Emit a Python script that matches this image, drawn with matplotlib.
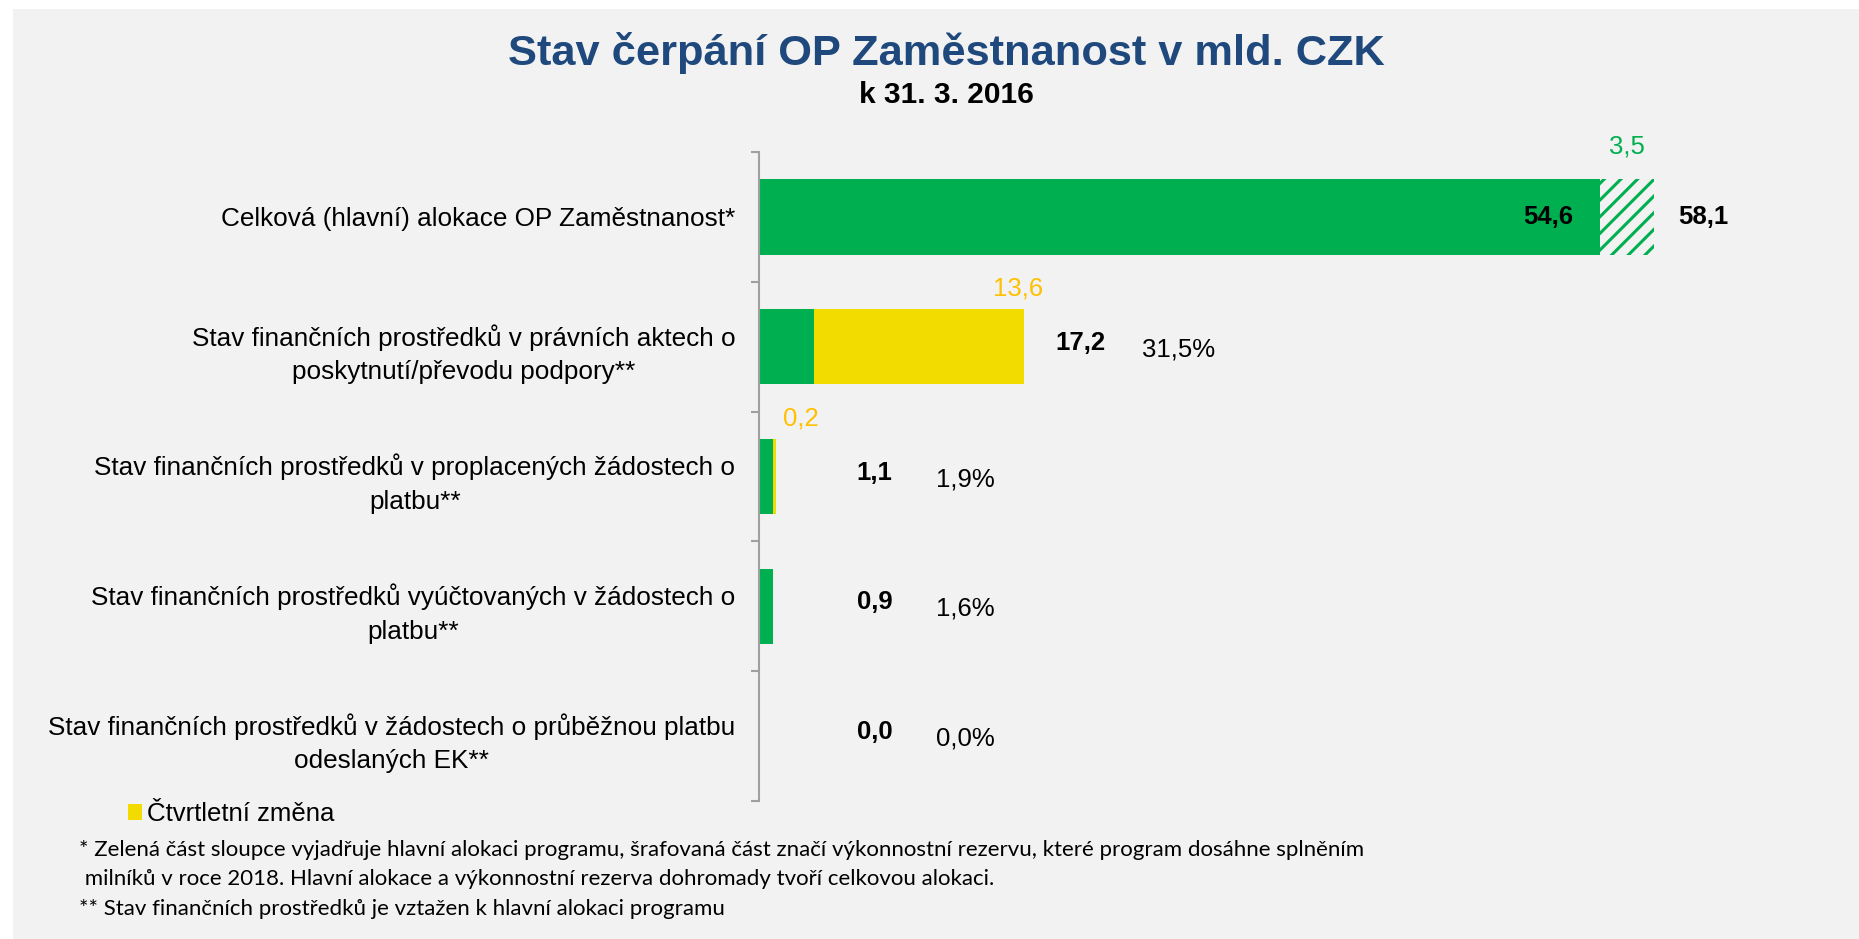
import matplotlib
matplotlib.use('Agg')
import matplotlib.pyplot as plt
from matplotlib.patches import Rectangle

plt.rcParams['font.family'] = ['Liberation Sans', 'DejaVu Sans']
plt.rcParams['hatch.linewidth'] = 2.2

# ---------------- data ----------------
title = "Stav čerpání OP Zaměstnanost v mld. CZK"
subtitle = "k 31. 3. 2016"
categories = [
    "Celková (hlavní) alokace OP Zaměstnanost*",
    "Stav finančních prostředků v právních aktech o\nposkytnutí/převodu podpory**",
    "Stav finančních prostředků v proplacených žádostech o\nplatbu**",
    "Stav finančních prostředků vyúčtovaných v žádostech o\nplatbu**",
    "Stav finančních prostředků v žádostech o průběžnou platbu\nodeslaných EK**",
]
main_values = [54.6, 3.6, 0.9, 0.9, 0.0]       # green part
quarter_change = [0.0, 13.6, 0.2, 0.0, 0.0]    # yellow part
reserve = [3.5, 0.0, 0.0, 0.0, 0.0]            # hatched part (performance reserve)
totals = [58.1, 17.2, 1.1, 0.9, 0.0]
share_pct = [None, 31.5, 1.9, 1.6, 0.0]
legend_label = "Čtvrtletní změna"
footnotes = [
    "* Zelená část sloupce vyjadřuje hlavní alokaci programu, šrafovaná část značí výkonnostní rezervu, které program dosáhne splněním",
    " milníků v roce 2018. Hlavní alokace a výkonnostní rezerva dohromady tvoří celkovou alokaci.",
    "** Stav finančních prostředků je vztažen k hlavní alokaci programu",
]

GREEN = '#00B050'
YELLOW = '#F2DC00'
ORANGE = '#FFC000'
TITLE_BLUE = '#1F497D'
AXIS_GRAY = '#A0A0A0'

def fmt(v):
    return f"{v:.1f}".replace('.', ',')

W, H = 1859, 939
fig = plt.figure(figsize=(W / 100, H / 100), dpi=100)
fig.patch.set_facecolor('white')
fig.patches.append(Rectangle((13 / W, 0), 1 - 13 / W, 1 - 9 / H,
                             transform=fig.transFigure, facecolor='#F2F2F2',
                             edgecolor='none', zorder=-10))

ax_left, ax_right = 759 / W, 1840 / W
ax_top, ax_bottom = 1 - 152 / H, 1 - 801 / H
ax = fig.add_axes([ax_left, ax_bottom, ax_right - ax_left, ax_top - ax_bottom])
ax.set_facecolor('none')

y = list(range(len(categories)))
bh = 0.58
ax.barh(y, main_values, height=bh, color=GREEN, linewidth=0, zorder=2)
yb = ax.barh(y, quarter_change, left=main_values, height=bh, color=YELLOW,
             linewidth=0, zorder=2, label=legend_label)
ax.barh(y, reserve, left=main_values, height=bh, facecolor='none',
        edgecolor=GREEN, hatch='//', linewidth=0, zorder=2)

ax.set_xlim(0, 70.2)
ax.set_ylim(len(categories) - 0.5, -0.5)
ax.set_xticks([])
ax.set_yticks(y)
ax.set_yticklabels(categories, fontsize=18.8, ha='right', multialignment='center',
                   linespacing=1.5)
ax.tick_params(axis='y', which='major', length=0, pad=17)
ax.set_yticks([i - 0.5 for i in range(len(categories) + 1)], minor=True)
ax.tick_params(axis='y', which='minor', length=6, width=1.5, color=AXIS_GRAY, direction='out')
for s in ['top', 'right', 'bottom']:
    ax.spines[s].set_visible(False)
ax.spines['left'].set_color(AXIS_GRAY)
ax.spines['left'].set_linewidth(1.5)

fs = 18.5
for i in y:
    tot = totals[i]
    if reserve[i] > 0:
        ax.text(main_values[i] - 1.7, i, fmt(main_values[i]), ha='right', va='center',
                fontsize=fs, fontweight='bold', color='black')
        ax.text(main_values[i] + reserve[i] / 2, i - 0.54, fmt(reserve[i]), ha='center',
                va='center', fontsize=fs, color=GREEN)
        ax.text(tot + 1.6, i, fmt(tot), ha='left', va='center', fontsize=fs,
                fontweight='bold', color='black')
    else:
        cx = max(tot + 3.7, 7.5)
        ax.text(cx, i - 0.03, fmt(tot), ha='center', va='center', fontsize=fs,
                fontweight='bold', color='black')
        ax.text(cx + 4.0, i + 0.02, fmt(share_pct[i]) + '%', ha='left', va='center',
                fontsize=fs, color='black')
    if quarter_change[i] > 0:
        end = main_values[i] + quarter_change[i]
        ax.text(max(end - 0.4, 2.7), i - 0.45, fmt(quarter_change[i]), ha='center',
                va='center', fontsize=fs, color=ORANGE)

fig.text(946 / W, 1 - 53 / H, title, ha='center', va='center', fontsize=31.2,
         fontweight='bold', color=TITLE_BLUE)
fig.text(946 / W, 1 - 95 / H, subtitle, ha='center', va='center', fontsize=21.5,
         fontweight='bold', color='black')

fig.legend(handles=[yb], labels=[legend_label], loc='center left',
           bbox_to_anchor=(128 / W, 1 - 814 / H), frameon=False, fontsize=fs,
           handlelength=0.55, handleheight=0.55, handletextpad=0.2,
           borderpad=0, borderaxespad=0)

foot_y = [850, 879, 909]
foot_x = [79, 79, 79]
for t, fy, fx in zip(footnotes, foot_y, foot_x):
    fig.text(fx / W, 1 - fy / H, t, ha='left', va='center', fontsize=16,
             family=['Lato', 'DejaVu Sans'], color='black')

fig.savefig('out.png', dpi=100, facecolor=fig.get_facecolor())
